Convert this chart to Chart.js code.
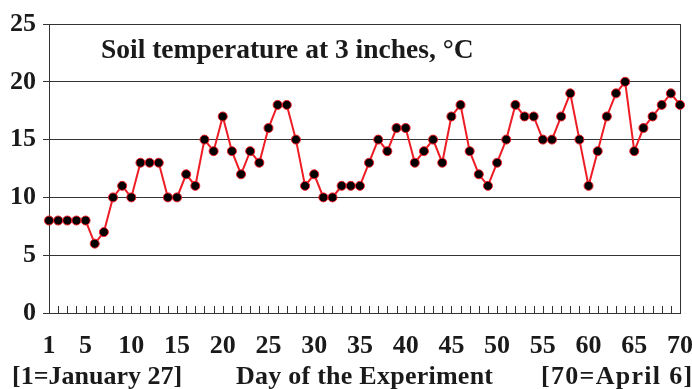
<!DOCTYPE html>
<html>
<head>
<meta charset="utf-8">
<script src="https://cdn.jsdelivr.net/npm/chart.js@4"></script>
<style>
  html, body { margin: 0; padding: 0; background: #fff; }
  #wrap { position: relative; width: 692px; height: 389px; overflow: hidden; }
  .txt {
    position: absolute;
    font-family: "Liberation Serif", "Times New Roman", serif;
    font-weight: bold;
    font-size: 26px;
    line-height: 1;
    color: #1a1a1a;
    white-space: nowrap;
  }
</style>
</head>
<body>
<div id="wrap">
  <canvas id="chart" style="width:692px;height:389px"></canvas>
  <div class="txt" style="left:101px; top:35px; font-size:27.5px;">Soil temperature at 3 inches, °C</div>
  <div class="txt" style="left:12px; top:363px;">[1=January 27]</div>
  <div class="txt" style="left:236px; top:363px; letter-spacing:0.25px;">Day of the Experiment</div>
  <div class="txt" style="left:541px; top:363px; letter-spacing:1.3px;">[70=April 6]</div>
</div>
<script>
const days = [
  1, 2, 3, 4, 5, 6, 7, 8, 9, 10,
  11, 12, 13, 14, 15, 16, 17, 18, 19, 20,
  21, 22, 23, 24, 25, 26, 27, 28, 29, 30,
  31, 32, 33, 34, 35, 36, 37, 38, 39, 40,
  41, 42, 43, 44, 45, 46, 47, 48, 49, 50,
  51, 52, 53, 54, 55, 56, 57, 58, 59, 60,
  61, 62, 63, 64, 65, 66, 67, 68, 69, 70
];

const soilTemp = [
  8, 8, 8, 8, 8, 6, 7, 10, 11, 10,
  13, 13, 13, 10, 10, 12, 11, 15, 14, 17,
  14, 12, 14, 13, 16, 18, 18, 15, 11, 12,
  10, 10, 11, 11, 11, 13, 15, 14, 16, 16,
  13, 14, 15, 13, 17, 18, 14, 12, 11, 13,
  15, 18, 17, 17, 15, 15, 17, 19, 15, 11,
  14, 17, 19, 20, 14, 16, 17, 18, 19, 18
];

const xTickLabels = [1, 5, 10, 15, 20, 25, 30, 35, 40, 45, 50, 55, 60, 65, 70];
const yTicks = [0, 5, 10, 15, 20, 25];

const axisColor = "#333333";
const tickFont = { family: "'Liberation Serif', 'Times New Roman', serif", size: 26, weight: "bold" };

// little ticks pointing up from the x axis, plus the right frame line
const frame = {
  id: "frame",
  beforeDatasetsDraw(chart) {
    const { ctx, chartArea, scales } = chart;
    ctx.save();
    ctx.strokeStyle = axisColor;
    ctx.lineWidth = 1;
    ctx.beginPath();
    for (let i = 1; i < days.length; i++) {
      const x = Math.round(scales.x.getPixelForValue(i)) + 0.5;
      ctx.moveTo(x, chartArea.bottom);
      ctx.lineTo(x, chartArea.bottom - 7);
    }
    const r = Math.round(chartArea.right) + 0.5;
    ctx.moveTo(r, chartArea.top);
    ctx.lineTo(r, chartArea.bottom);
    ctx.stroke();
    ctx.restore();
  }
};

new Chart(document.getElementById("chart"), {
  type: "line",
  data: {
    labels: days,
    datasets: [{
      data: soilTemp,
      borderColor: "#ee1c24",
      borderWidth: 2,
      pointBackgroundColor: "#000000",
      pointBorderColor: "#ee1c24",
      pointBorderWidth: 1,
      pointRadius: 4.5,
      tension: 0
    }]
  },
  options: {
    responsive: false,
    animation: false,
    layout: { padding: { top: 24, right: 12, left: 0, bottom: 31 } },
    plugins: { legend: { display: false }, tooltip: { enabled: false } },
    scales: {
      x: {
        type: "category",
        offset: false,
        grid: { display: false, drawTicks: false },
        border: { display: true, color: axisColor, width: 1 },
        ticks: {
          autoSkip: false,
          maxRotation: 0,
          padding: 18,
          color: "#1a1a1a",
          font: tickFont,
          callback: (val, i) => (xTickLabels.includes(days[i]) ? String(days[i]) : "")
        },
        afterFit: (s) => {
          s.height = 45;
          s.paddingLeft = 0;
          s.paddingRight = 0;
        }
      },
      y: {
        min: 0,
        max: 25,
        afterBuildTicks: (s) => { s.ticks = yTicks.map((v) => ({ value: v })); },
        grid: { color: axisColor, lineWidth: 1, tickLength: 6 },
        border: { color: axisColor, width: 1 },
        ticks: { padding: 7, color: "#1a1a1a", font: tickFont },
        afterFit: (s) => { s.width = 49; }
      }
    }
  },
  plugins: [frame]
});
</script>
</body>
</html>
